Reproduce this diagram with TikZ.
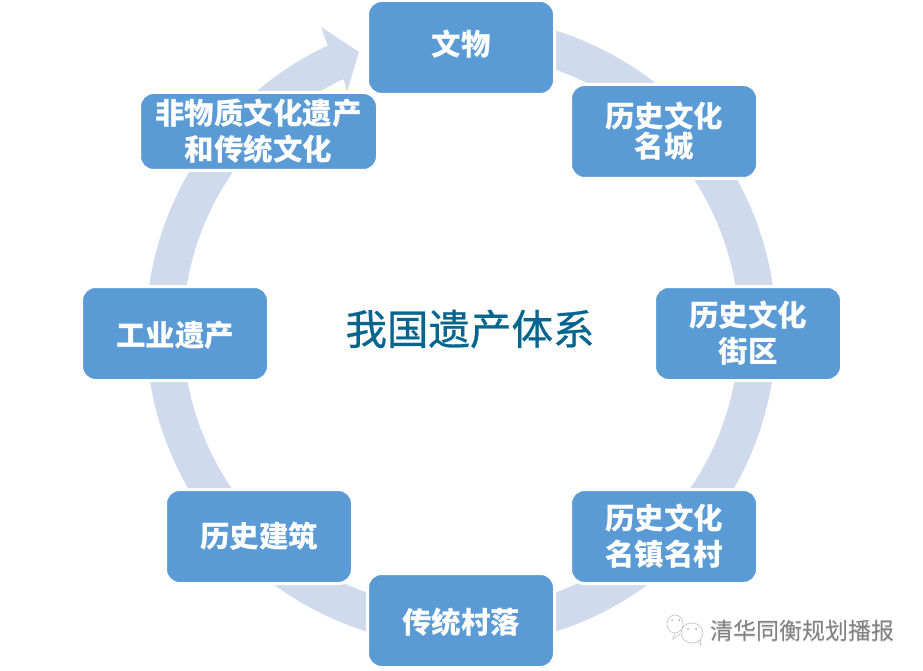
\documentclass[tikz,border=0pt]{standalone}
\usepackage{fontspec}
\setmainfont{Noto Sans CJK SC}
\newfontfamily\titlefont[FakeBold=0.6]{Noto Sans CJK SC}
\usetikzlibrary{positioning,calc}
\definecolor{boxblue}{HTML}{5B9BD5}
\definecolor{ringblue}{HTML}{CFDBED}
\definecolor{titleblue}{HTML}{05658F}
\newcommand{\nudged}[2]{\raisebox{#1}[\height][\depth]{#2}}
\tikzset{
    heritage/.style={draw=white, line width=3pt, fill=boxblue, rounded corners=14pt, minimum width=187pt,
        minimum height=94pt, align=center, text=white, inner sep=0pt,
        font=\fontsize{29.5}{36}\selectfont\bfseries},
    bubble/.style={draw=gray!45, line width=0.7pt, fill=white},
}
\begin{document}
\begin{tikzpicture}[x=1pt,y=-1pt]
    \useasboundingbox (0,0) rectangle (923,671);
    \fill[white] (0,0) rectangle (923,671);

    % Circular arrow behind the boxes
    \coordinate (hub) at (461,331);
    \fill[ringblue] ($(hub)+(-73:315)$) arc[start angle=-73, end angle=245, radius=315]
        -- (321,27) -- (359,52) -- (347,92) -- ($(hub)+(245:278)$)
        arc[start angle=245, end angle=-73, radius=278] -- cycle;

    % Boxes, clockwise from the top
    \node[heritage] (relic) at (461,47.5) {\nudged{3pt}{文物}};
    \node[heritage] (city) at (664,131.5) {历史文化\\[-6pt]名城};
    \node[heritage] (district) at (748,333.5) {历史文化\\街区};
    \node[heritage] (town) at (664,536.5) {历史文化\\名镇名村};
    \node[heritage] (village) at (461,620.5) {\nudged{-2pt}{传统村落}};
    \node[heritage] (building) at (259,536.5) {历史建筑};
    \node[heritage] (industry) at (175,333.5) {\nudged{-2pt}{工业遗产}};
    \node[heritage, minimum width=238pt, minimum height=78pt] (intangible) at (258.5,131.5)
        {非物质文化遗产\\和传统文化};

    % Title and signature
    \node[text=titleblue, font=\fontsize{41.5}{48}\selectfont\titlefont] (title) at (470,329) {我国遗产体系};
    \node[text=gray!35, font=\fontsize{23}{28}\selectfont] (markshadow) at (802.7,631.7) {清华同衡规划播报};
    \node[text=gray, font=\fontsize{23}{28}\selectfont] (mark) at (802,631) {清华同衡规划播报};

    % Chat bubbles of the signature
    \draw[bubble] (675,633) -- (673,639) -- (680,634);
    \draw[bubble] (675,624) ellipse (8 and 9);
    \draw[bubble] (697,641) -- (701,645) -- (700,638);
    \draw[bubble] (692,633) ellipse (11 and 10);
    \fill[gray!60] (672,620) circle (1) (679,620) circle (1) (688,629) circle (1) (696,629) circle (1);
\end{tikzpicture}
\end{document}
